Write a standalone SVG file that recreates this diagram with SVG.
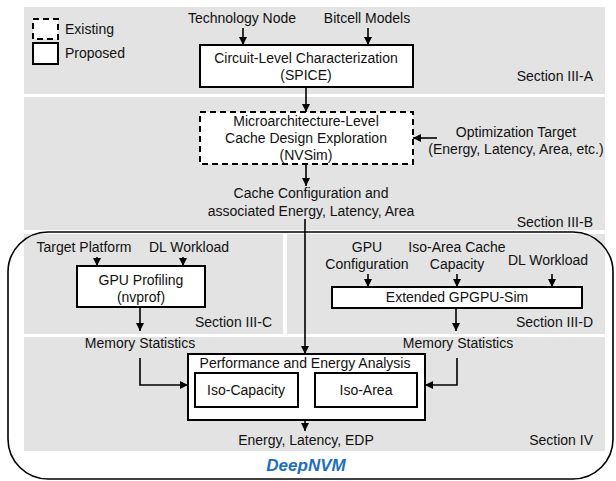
<svg xmlns="http://www.w3.org/2000/svg" width="616" height="481" viewBox="0 0 616 481">
<defs>
<marker id="ah" viewBox="0 0 10 10" refX="10" refY="5" markerWidth="8" markerHeight="8" markerUnits="userSpaceOnUse" orient="auto"><path d="M0,0 L10,5 L0,10 z" fill="#000"/></marker>
<style>
text{font-family:"Liberation Sans",Arial,sans-serif;font-size:14px;fill:#111}
.c{text-anchor:middle}
.r{text-anchor:end}
.panel{fill:#e3e3e3}
.box{fill:#fff;stroke:#000;stroke-width:2}
.dash{fill:#fff;stroke:#000;stroke-width:2;stroke-dasharray:6,4}
.ln{fill:none;stroke:#000;stroke-width:1.6}
.ar{fill:none;stroke:#000;stroke-width:1.6;marker-end:url(#ah)}
</style>
</defs>
<rect width="616" height="481" fill="#fff"/>
<g id="panels">
<rect class="panel" x="24" y="7" width="581" height="87"/>
<rect class="panel" x="24" y="97" width="581" height="133"/>
<rect class="panel" x="24" y="234" width="259" height="100"/>
<rect class="panel" x="287" y="234" width="318" height="100"/>
<rect class="panel" x="24" y="337" width="581" height="114"/>
<rect x="8" y="232" width="605" height="247" rx="40" ry="40" fill="none" stroke="#000" stroke-width="1.6"/>
</g>
<g id="legend">
<rect class="dash" x="33" y="19" width="25" height="20" stroke-dasharray="5,3"/>
<text x="65" y="34">Existing</text>
<rect class="box" x="33" y="43" width="25" height="21"/>
<text x="65" y="58">Proposed</text>
</g>
<g id="sections">
<text class="r" x="593" y="81">Section III-A</text>
<text class="r" x="593" y="227">Section III-B</text>
<text class="r" x="272" y="327">Section III-C</text>
<text class="r" x="593" y="327">Section III-D</text>
<text class="r" x="593" y="445">Section IV</text>
</g>
<g id="inputs">
<text class="c" x="242" y="23">Technology Node</text>
<text class="c" x="367" y="23">Bitcell Models</text>
<text class="c" x="516" y="137">Optimization Target</text>
<text class="c" x="516" y="154">(Energy, Latency, Area, etc.)</text>
<text class="c" x="84" y="252">Target Platform</text>
<text class="c" x="189" y="252">DL Workload</text>
<text class="c" x="367" y="252">GPU</text>
<text class="c" x="367" y="269">Configuration</text>
<text class="c" x="457" y="252">Iso-Area Cache</text>
<text class="c" x="457" y="269">Capacity</text>
<text class="c" x="548" y="265">DL Workload</text>
</g>
<g id="circuit">
<rect class="box" x="200" y="45" width="213" height="42"/>
<text class="c" x="306" y="63">Circuit-Level Characterization</text>
<text class="c" x="306" y="80">(SPICE)</text>
</g>
<g id="nvsim">
<rect class="dash" x="200" y="112" width="213" height="52"/>
<text class="c" x="306" y="126">Microarchitecture-Level</text>
<text class="c" x="306" y="143">Cache Design Exploration</text>
<text class="c" x="306" y="160">(NVSim)</text>
</g>
<g id="cacheconfig">
<text class="c" x="311" y="198">Cache Configuration and</text>
<text class="c" x="311" y="216">associated Energy, Latency, Area</text>
</g>
<g id="gpuprof">
<rect class="box" x="77" y="266" width="128" height="41"/>
<text class="c" x="141" y="285">GPU Profiling</text>
<text class="c" x="141" y="302">(nvprof)</text>
</g>
<g id="gpgpusim">
<rect class="box" x="332" y="287" width="250" height="21"/>
<text class="c" x="457" y="302">Extended GPGPU-Sim</text>
</g>
<g id="memstats">
<text class="c" x="140" y="348">Memory Statistics</text>
<text class="c" x="458" y="348">Memory Statistics</text>
</g>
<g id="perf">
<rect class="box" x="188" y="354" width="237" height="66"/>
<text class="c" x="305" y="368">Performance and Energy Analysis</text>
<rect class="box" x="195" y="373" width="103" height="34"/>
<text class="c" x="246" y="395">Iso-Capacity</text>
<rect class="box" x="315" y="373" width="102" height="34"/>
<text class="c" x="366" y="395">Iso-Area</text>
</g>
<g id="output">
<text class="c" x="306" y="445">Energy, Latency, EDP</text>
<text class="c" x="306" y="471" style="font-weight:bold;font-style:italic;fill:#1b6ec2;font-size:17px">DeepNVM</text>
</g>
<g id="connectors">
<line class="ar" x1="243" y1="28" x2="243" y2="45"/>
<line class="ar" x1="368" y1="28" x2="368" y2="45"/>
<line class="ar" x1="306" y1="87" x2="306" y2="112"/>
<line class="ar" x1="437" y1="138" x2="413" y2="138"/>
<line class="ar" x1="306" y1="164" x2="306" y2="186"/>
<line class="ar" x1="305" y1="219" x2="305" y2="354"/>
<line class="ar" x1="97" y1="257" x2="97" y2="266"/>
<line class="ar" x1="183" y1="257" x2="183" y2="266"/>
<line class="ar" x1="368" y1="274" x2="368" y2="287"/>
<line class="ar" x1="457" y1="274" x2="457" y2="287"/>
<line class="ar" x1="552" y1="274" x2="552" y2="287"/>
<line class="ar" x1="140" y1="307" x2="140" y2="331"/>
<line class="ar" x1="456" y1="308" x2="456" y2="331"/>
<polyline class="ar" points="140,358 140,385 188,385"/>
<polyline class="ar" points="457,358 457,385 425,385"/>
<line class="ar" x1="305" y1="420" x2="305" y2="431"/>
</g>
</svg>
